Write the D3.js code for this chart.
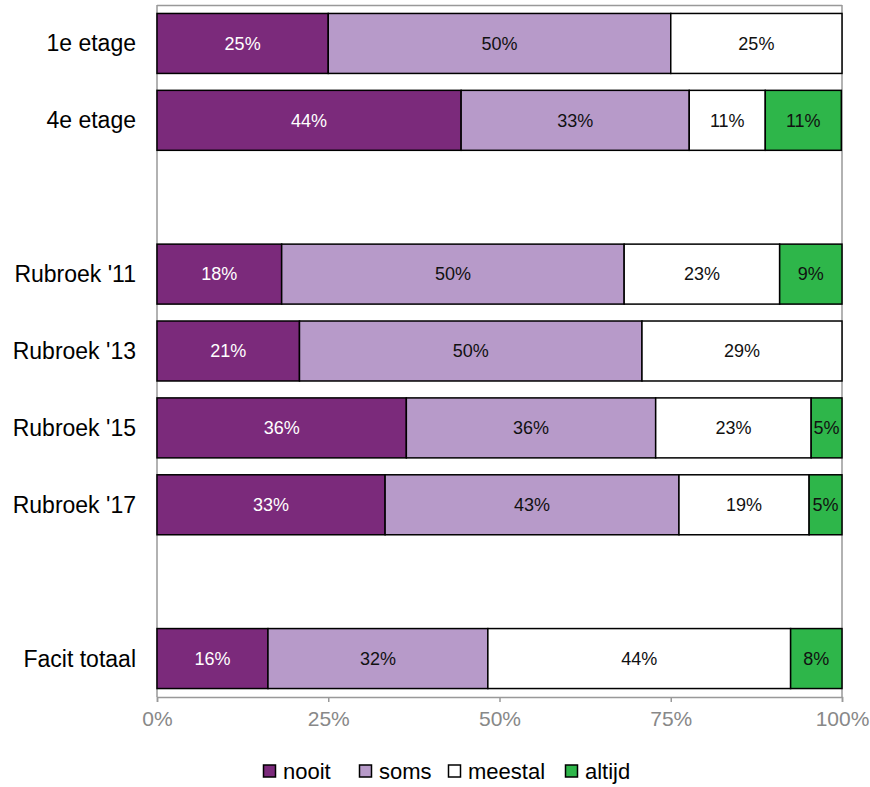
<!DOCTYPE html>
<html><head><meta charset="utf-8">
<script src="https://cdn.jsdelivr.net/npm/d3@7"></script>
<style>body{margin:0;background:#fff;font-family:"Liberation Sans",Arial,sans-serif}</style>
</head><body>
<svg id="c" width="870" height="787"></svg>
<script>
const categories = ["1e etage","4e etage","","Rubroek '11","Rubroek '13","Rubroek '15","Rubroek '17","","Facit totaal"];
const seriesNames = ["nooit","soms","meestal","altijd"];
const colors = ["#7B2A7B","#B79AC9","#FFFFFF","#2EB64A"];
const labelColors = ["#fff","#111","#111","#111"];
const nooit   = [25, 44.4, null, 18.2, 20.8, 36.4, 33.3, null, 16.2];
const soms    = [50, 33.3, null, 50.0, 50.0, 36.4, 42.9, null, 32.1];
const meestal = [25, 11.1, null, 22.7, 29.2, 22.7, 19.0, null, 44.2];
const altijd  = [0, 11.1, null, 9.1, 0, 4.5, 4.8, null, 7.5];
const tickValues = [0,25,50,75,100];

const svg = d3.select("#c");
const m = {l:157, r:842, t:5, b:697};
const x = d3.scaleLinear().domain([0,100]).range([m.l,m.r]);
const y = d3.scaleBand().domain(categories.map((c,i)=>i)).range([m.t,m.b]).paddingInner(0.22).paddingOuter(0.11);

// frame
svg.append("line").attr("x1",m.l).attr("x2",m.r).attr("y1",m.t+0.5).attr("y2",m.t+0.5).attr("stroke","#999").attr("stroke-width",1.5);
svg.append("line").attr("x1",m.r).attr("x2",m.r).attr("y1",m.t).attr("y2",m.b).attr("stroke","#999").attr("stroke-width",1.5);
svg.append("line").attr("x1",m.l).attr("x2",m.l).attr("y1",m.t).attr("y2",m.b).attr("stroke","#999").attr("stroke-width",1.5);

const data = categories.map((c,i)=>({i, c, vals:[nooit[i],soms[i],meestal[i],altijd[i]]}));
data.forEach(d=>{
  if (d.vals[0]==null) return;
  let acc=0;
  d.vals.forEach((v,k)=>{
    if(!v) return;
    const x0=x(acc), x1=x(acc+v);
    svg.append("rect").attr("x",x0).attr("y",y(d.i)).attr("width",x1-x0).attr("height",y.bandwidth())
      .attr("fill",colors[k]).attr("stroke","#000").attr("stroke-width",1.5);
    svg.append("text").attr("x",(x0+x1)/2).attr("y",y(d.i)+y.bandwidth()/2).attr("dy","0.35em")
      .attr("text-anchor","middle").attr("font-size",18).attr("fill",labelColors[k])
      .text(Math.round(v)+"%");
    acc+=v;
  });
  svg.append("text").attr("x",136).attr("y",y(d.i)+y.bandwidth()/2).attr("dy","0.35em")
    .attr("text-anchor","end").attr("font-size",23).attr("fill","#000").text(d.c);
});

// x axis
const ax = svg.append("g").attr("transform",`translate(0,${m.b})`)
  .call(d3.axisBottom(x).tickValues(tickValues).tickFormat(d=>d+"%").tickSize(5).tickPadding(9));
ax.select(".domain").attr("stroke","#999").attr("stroke-width",1.5);
ax.selectAll(".tick line").attr("stroke","#999").attr("stroke-width",1.5);
ax.selectAll(".tick text").attr("fill","#888").attr("font-size",21).attr("font-family","Liberation Sans, Arial, sans-serif");

// legend
const legX = [263, 359, 448, 565];
seriesNames.forEach((n,k)=>{
  const g = svg.append("g").attr("transform",`translate(${legX[k]},765)`);
  g.append("rect").attr("x",0.5).attr("y",0).attr("width",12).attr("height",12).attr("fill",colors[k]).attr("stroke","#000").attr("stroke-width",1.5);
  g.append("text").attr("x",20).attr("y",6).attr("dy","0.35em").attr("font-size",22).attr("fill","#000").text(n);
});
</script>
</body></html>
